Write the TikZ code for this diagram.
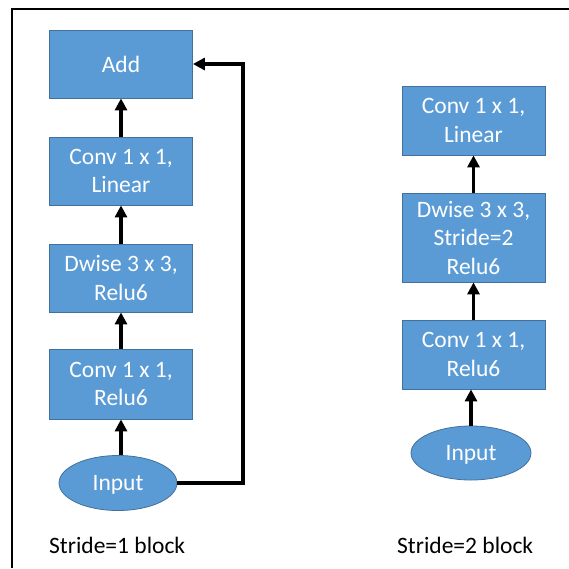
\documentclass[tikz,border=0pt]{standalone}
\usepackage{fontspec}
\setmainfont{Carlito}
\usetikzlibrary{shapes.geometric,arrows.meta}

\definecolor{boxfill}{HTML}{5B9BD5}
\definecolor{boxline}{HTML}{41719C}

\tikzset{
  layer/.style={rectangle, draw=boxline, line width=0.8pt, fill=boxfill,
    text=white, align=center, inner sep=0pt, minimum width=143pt,
    font=\fontsize{23.5}{28.5}\selectfont},
  inbox/.style={ellipse, draw=boxline, line width=0.8pt, fill=boxfill,
    text=white, inner sep=0pt, text depth=0pt, font=\fontsize{23.5}{28.5}\selectfont},
  flow/.style={line width=3.4pt, -{Triangle[length=12pt,width=12pt]}},
  caption/.style={anchor=west, inner sep=0pt, font=\fontsize{23.5}{28.5}\selectfont}
}

\begin{document}
\begin{tikzpicture}[x=1pt,y=-1pt]
  \useasboundingbox (0,0) rectangle (569,568);

  % frame lines
  \draw[line width=2pt] (12,568) -- (12,9) -- (569,9);

  % stride 1 block
  \node[layer, minimum height=68pt] (add) at (121,64) {Add};
  \node[layer, minimum height=68pt] (lin1) at (121,171) {Conv 1 x 1,\\Linear};
  \node[layer, minimum height=68pt] (dw1) at (121,278) {Dwise 3 x 3,\\Relu6};
  \node[layer, minimum height=70pt] (exp1) at (121,384) {Conv 1 x 1,\\Relu6};
  \node[inbox, minimum width=118pt, minimum height=55pt] (in1) at (118,483) {Input};
  \coordinate (skipA) at (243,483);
  \coordinate (skipB) at (243,64);

  \draw[flow] (in1.north -| exp1.south) -- (exp1.south);
  \draw[flow] (exp1) -- (dw1);
  \draw[flow] (dw1) -- (lin1);
  \draw[flow] (lin1) -- (add);
  \draw[flow, line join=miter] (in1.east) -- (skipA) -- (skipB) -- (add.east);

  \node[caption] (cap1) at (49,545) {Stride=1 block};

  % stride 2 block
  \node[layer, minimum height=69pt] (lin2) at (473.5,120.5) {Conv 1 x 1,\\Linear};
  \node[layer, minimum height=89pt] (dw2) at (473.5,237.5) {Dwise 3 x 3,\\Stride=2\\Relu6};
  \node[layer, minimum height=69pt] (exp2) at (473.5,354.5) {Conv 1 x 1,\\Relu6};
  \node[inbox, minimum width=120pt, minimum height=54pt] (in2) at (471,453) {Input};

  \draw[flow] (in2) -- (in2 |- exp2.south);
  \draw[flow] (exp2) -- (dw2);
  \draw[flow] (dw2) -- (lin2);

  \node[caption] (cap2) at (397,545) {Stride=2 block};
\end{tikzpicture}
\end{document}
